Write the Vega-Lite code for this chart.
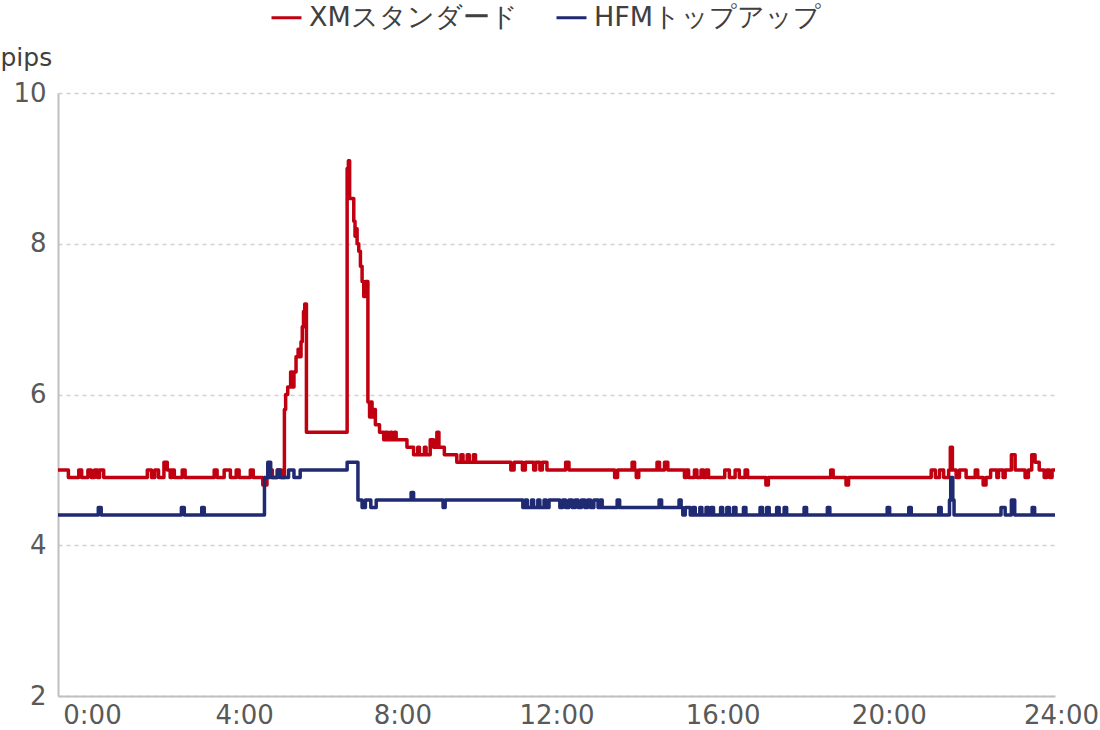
{
  "$schema": "https://vega.github.io/schema/vega-lite/v6.json",
  "width": 997,
  "height": 603,
  "autosize": {"type": "none"},
  "padding": {"left": 58, "top": 93, "right": 45, "bottom": 34},
  "background": "white",
  "datasets": {
    "xm": [
      {"t":0,"v":5.0},{"t":0.25,"v":4.9},{"t":0.5,"v":5.0},{"t":0.57,"v":4.9},{"t":0.72,"v":5.0},{"t":0.8,"v":4.9},{"t":0.88,"v":5.0},{"t":0.95,"v":4.9},{"t":1.0,"v":5.0},{"t":1.1,"v":4.9},
      {"t":2.15,"v":5.0},{"t":2.25,"v":4.9},{"t":2.33,"v":5.0},{"t":2.42,"v":4.9},{"t":2.55,"v":5.1},{"t":2.63,"v":5.0},{"t":2.7,"v":4.9},{"t":2.74,"v":5.0},{"t":2.8,"v":4.9},{"t":2.99,"v":5.0},{"t":3.06,"v":4.9},
      {"t":3.76,"v":5.0},{"t":3.83,"v":4.9},{"t":4.0,"v":5.0},{"t":4.15,"v":4.9},{"t":4.29,"v":5.0},{"t":4.36,"v":4.9},{"t":4.63,"v":5.0},{"t":4.7,"v":4.9},{"t":4.93,"v":4.8},{"t":5.03,"v":4.9},{"t":5.1,"v":5.0},{"t":5.16,"v":4.9},{"t":5.28,"v":5.0},{"t":5.38,"v":4.9},
      {"t":5.45,"v":5.8},{"t":5.48,"v":6.0},{"t":5.53,"v":6.1},{"t":5.6,"v":6.3},{"t":5.64,"v":6.1},{"t":5.68,"v":6.3},{"t":5.73,"v":6.5},{"t":5.78,"v":6.6},{"t":5.82,"v":6.5},{"t":5.85,"v":6.7},{"t":5.88,"v":6.9},{"t":5.91,"v":7.1},{"t":5.94,"v":7.2},{"t":5.98,"v":5.5},
      {"t":6.96,"v":9.0},{"t":6.99,"v":9.1},{"t":7.02,"v":8.6},{"t":7.12,"v":8.3},{"t":7.15,"v":8.1},{"t":7.18,"v":8.2},{"t":7.2,"v":8.0},{"t":7.24,"v":7.9},{"t":7.28,"v":7.7},{"t":7.32,"v":7.5},{"t":7.36,"v":7.3},{"t":7.4,"v":7.5},
      {"t":7.46,"v":5.9},{"t":7.5,"v":5.7},{"t":7.53,"v":5.9},{"t":7.56,"v":5.7},{"t":7.6,"v":5.8},{"t":7.64,"v":5.6},{"t":7.74,"v":5.5},{"t":7.84,"v":5.4},{"t":7.88,"v":5.5},{"t":7.94,"v":5.4},{"t":8.0,"v":5.5},{"t":8.04,"v":5.4},{"t":8.1,"v":5.5},{"t":8.14,"v":5.4},
      {"t":8.4,"v":5.3},{"t":8.56,"v":5.2},{"t":8.66,"v":5.3},{"t":8.7,"v":5.2},{"t":8.82,"v":5.3},{"t":8.86,"v":5.2},{"t":8.96,"v":5.4},{"t":9.04,"v":5.3},{"t":9.12,"v":5.5},{"t":9.17,"v":5.3},{"t":9.3,"v":5.2},
      {"t":9.6,"v":5.1},{"t":9.7,"v":5.2},{"t":9.75,"v":5.1},{"t":9.85,"v":5.2},{"t":9.9,"v":5.1},{"t":10.0,"v":5.2},{"t":10.05,"v":5.1},
      {"t":10.9,"v":5.0},{"t":10.98,"v":5.1},{"t":11.18,"v":5.0},{"t":11.25,"v":5.1},{"t":11.45,"v":5.0},{"t":11.5,"v":5.1},{"t":11.6,"v":5.0},{"t":11.66,"v":5.1},{"t":11.77,"v":5.0},
      {"t":12.22,"v":5.1},{"t":12.3,"v":5.0},{"t":13.4,"v":4.9},{"t":13.47,"v":5.0},{"t":13.82,"v":5.1},{"t":13.88,"v":5.0},{"t":13.92,"v":4.9},{"t":13.98,"v":5.0},{"t":14.42,"v":5.1},{"t":14.48,"v":5.0},{"t":14.6,"v":5.1},{"t":14.68,"v":5.0},
      {"t":15.08,"v":4.9},{"t":15.12,"v":5.0},{"t":15.18,"v":4.9},{"t":15.32,"v":5.0},{"t":15.38,"v":4.9},{"t":15.48,"v":5.0},{"t":15.54,"v":4.9},{"t":15.6,"v":5.0},{"t":15.66,"v":4.9},
      {"t":16.05,"v":5.0},{"t":16.16,"v":4.9},{"t":16.3,"v":5.0},{"t":16.4,"v":4.9},{"t":16.54,"v":5.0},{"t":16.6,"v":4.9},{"t":17.04,"v":4.8},{"t":17.1,"v":4.9},
      {"t":18.6,"v":5.0},{"t":18.66,"v":4.9},{"t":18.97,"v":4.8},{"t":19.03,"v":4.9},
      {"t":21.02,"v":5.0},{"t":21.12,"v":4.9},{"t":21.22,"v":5.0},{"t":21.32,"v":4.9},{"t":21.44,"v":5.0},{"t":21.48,"v":5.3},{"t":21.53,"v":5.0},{"t":21.62,"v":4.9},{"t":21.7,"v":5.0},{"t":21.86,"v":4.9},
      {"t":22.08,"v":5.0},{"t":22.14,"v":4.9},{"t":22.27,"v":4.8},{"t":22.34,"v":4.9},{"t":22.45,"v":5.0},{"t":22.6,"v":4.9},{"t":22.64,"v":5.0},{"t":22.75,"v":4.9},{"t":22.8,"v":5.0},
      {"t":22.95,"v":5.2},{"t":23.04,"v":5.0},{"t":23.28,"v":4.9},{"t":23.36,"v":5.0},{"t":23.44,"v":5.2},{"t":23.52,"v":5.1},{"t":23.62,"v":5.0},{"t":23.74,"v":4.9},{"t":23.8,"v":5.0},{"t":23.87,"v":4.9},{"t":23.93,"v":5.0},{"t":24.0,"v":5.0}
    ],
    "hfm": [
      {"t":0,"v":4.4},{"t":0.97,"v":4.5},{"t":1.04,"v":4.4},{"t":2.97,"v":4.5},{"t":3.04,"v":4.4},{"t":3.46,"v":4.5},{"t":3.52,"v":4.4},
      {"t":4.97,"v":4.9},{"t":5.05,"v":5.1},{"t":5.12,"v":4.9},{"t":5.28,"v":5.0},{"t":5.34,"v":4.9},{"t":5.55,"v":5.0},{"t":5.68,"v":4.9},{"t":5.83,"v":5.0},
      {"t":6.96,"v":5.1},{"t":7.22,"v":4.6},{"t":7.32,"v":4.5},{"t":7.4,"v":4.6},{"t":7.53,"v":4.5},{"t":7.66,"v":4.6},{"t":8.5,"v":4.7},{"t":8.56,"v":4.6},{"t":9.27,"v":4.5},{"t":9.32,"v":4.6},
      {"t":11.19,"v":4.5},{"t":11.25,"v":4.6},{"t":11.3,"v":4.5},{"t":11.4,"v":4.6},{"t":11.45,"v":4.5},{"t":11.55,"v":4.6},{"t":11.6,"v":4.5},{"t":11.7,"v":4.6},{"t":11.75,"v":4.5},{"t":11.82,"v":4.6},
      {"t":12.08,"v":4.5},{"t":12.15,"v":4.6},{"t":12.22,"v":4.5},{"t":12.3,"v":4.6},{"t":12.38,"v":4.5},{"t":12.45,"v":4.6},{"t":12.52,"v":4.5},{"t":12.6,"v":4.6},{"t":12.68,"v":4.5},{"t":12.75,"v":4.6},{"t":12.82,"v":4.5},{"t":12.9,"v":4.6},{"t":13.0,"v":4.5},{"t":13.05,"v":4.6},{"t":13.1,"v":4.5},
      {"t":13.46,"v":4.6},{"t":13.52,"v":4.5},{"t":14.47,"v":4.6},{"t":14.53,"v":4.5},{"t":14.95,"v":4.6},{"t":15.0,"v":4.5},{"t":15.04,"v":4.4},{"t":15.1,"v":4.5},{"t":15.22,"v":4.4},{"t":15.28,"v":4.5},{"t":15.34,"v":4.4},
      {"t":15.45,"v":4.5},{"t":15.5,"v":4.4},{"t":15.6,"v":4.5},{"t":15.66,"v":4.4},{"t":15.72,"v":4.5},{"t":15.78,"v":4.4},{"t":15.95,"v":4.5},{"t":16.0,"v":4.4},{"t":16.1,"v":4.5},{"t":16.16,"v":4.4},{"t":16.26,"v":4.5},{"t":16.32,"v":4.4},{"t":16.5,"v":4.5},{"t":16.56,"v":4.4},
      {"t":16.9,"v":4.5},{"t":16.96,"v":4.4},{"t":17.06,"v":4.5},{"t":17.12,"v":4.4},{"t":17.3,"v":4.5},{"t":17.36,"v":4.4},{"t":17.48,"v":4.5},{"t":17.54,"v":4.4},{"t":17.96,"v":4.5},{"t":18.02,"v":4.4},{"t":18.52,"v":4.5},{"t":18.58,"v":4.4},
      {"t":19.96,"v":4.5},{"t":20.02,"v":4.4},{"t":20.48,"v":4.5},{"t":20.54,"v":4.4},{"t":21.2,"v":4.5},{"t":21.26,"v":4.4},{"t":21.46,"v":4.6},{"t":21.49,"v":4.9},{"t":21.54,"v":4.6},{"t":21.57,"v":4.4},
      {"t":22.7,"v":4.5},{"t":22.8,"v":4.4},{"t":22.95,"v":4.6},{"t":23.03,"v":4.4},{"t":23.45,"v":4.5},{"t":23.51,"v":4.4},{"t":24.0,"v":4.4}
    ]
  },
  "encoding": {
    "x": {
      "field": "t", "type": "quantitative",
      "scale": {"domain": [0, 24], "nice": false, "zero": false},
      "axis": {
        "values": [0, 4, 8, 12, 16, 20, 24],
        "labelExpr": "datum.value + ':00'",
        "grid": false, "ticks": false, "title": null,
        "domainColor": "#bfbfbf", "domainWidth": 2,
        "labelFontSize": 26, "labelColor": "#595959", "labelPadding": 6,
        "labelFlush": false, "labelOverlap": false,
        "labelOffset": {"condition": [
          {"test": "datum.value == 0", "value": 34},
          {"test": "datum.value == 4", "value": 20},
          {"test": "datum.value == 8", "value": 12},
          {"test": "datum.value == 24", "value": 6}
        ], "value": 0}
      }
    },
    "y": {
      "field": "v", "type": "quantitative",
      "scale": {"domain": [2, 10], "nice": false, "zero": false},
      "axis": {
        "values": [2, 4, 6, 8, 10],
        "grid": true, "gridDash": [4, 4], "gridColor": "#d0d0d0", "gridWidth": 1.5,
        "ticks": false,
        "domainColor": "#bfbfbf", "domainWidth": 2,
        "labelFontSize": 26, "labelColor": "#595959", "labelPadding": 12,
        "title": "pips", "titleAngle": 0, "titleX": -58, "titleY": -36,
        "titleAlign": "left", "titleBaseline": "middle",
        "titleFontSize": 25, "titleFontWeight": "normal", "titleColor": "#404040"
      }
    }
  },
  "layer": [
    {
      "data": {"name": "xm"},
      "mark": {"type": "line", "interpolate": "step-after", "strokeWidth": 3.5, "strokeJoin": "round"},
      "encoding": {"color": {"datum": "XMスタンダード"}}
    },
    {
      "data": {"name": "hfm"},
      "mark": {"type": "line", "interpolate": "step-after", "strokeWidth": 3.5, "strokeJoin": "round"},
      "encoding": {"color": {"datum": "HFMトップアップ"}}
    }
  ],
  "resolve": {"scale": {"color": "shared"}},
  "config": {
    "view": {"stroke": null},
    "font": "DejaVu Sans",
    "range": {"category": ["#c00010", "#1f2a72"]},
    "legend": {
      "orient": "none", "legendX": 212, "legendY": -92, "direction": "horizontal",
      "title": null, "symbolType": "stroke", "symbolStrokeWidth": 3, "symbolSize": 900,
      "labelFontSize": 27, "labelColor": "#404040", "labelOffset": 6, "columnPadding": 32, "padding": 0,
      "labelLimit": 400
    }
  }
}
